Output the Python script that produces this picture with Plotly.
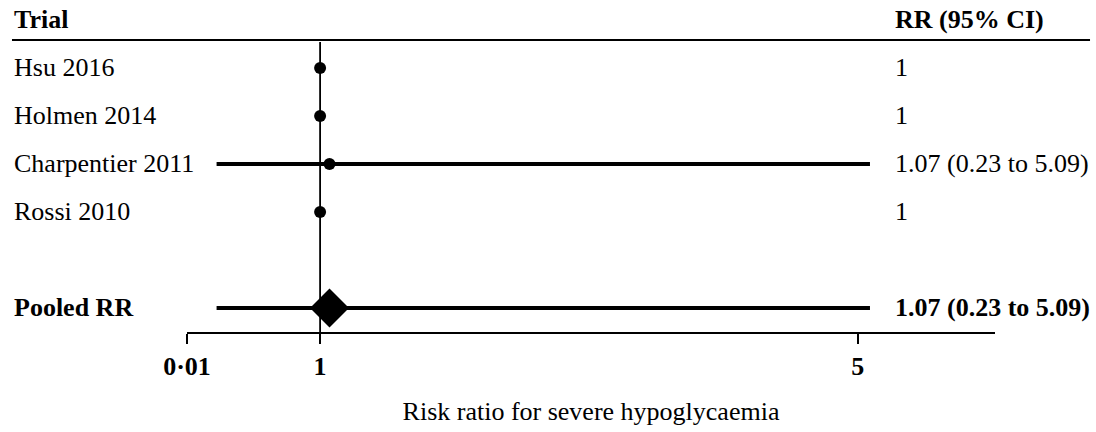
import plotly.graph_objects as go

# ---- data ----
trials = ["Hsu 2016", "Holmen 2014", "Charpentier 2011", "Rossi 2010"]
rr = [1.0, 1.0, 1.07, 1.0]
ci_low = [None, None, 0.23, None]
ci_high = [None, None, 5.09, None]
rr_text = ["1", "1", "1.07 (0.23 to 5.09)", "1"]
pooled_label = "Pooled RR"
pooled_rr = 1.07
pooled_low = 0.23
pooled_high = 5.09
pooled_text = "1.07 (0.23 to 5.09)"
tick_vals = [0.01, 1, 5]
tick_text = ["0·01", "1", "5"]
x_title = "Risk ratio for severe hypoglycaemia"

FONT = "Liberation Serif"
FS = 26

rows = list(range(len(trials)))
pooled_row = len(trials) + 1

fig = go.Figure()

# CI lines
for r, lo, hi in zip(rows, ci_low, ci_high):
    if lo is not None:
        fig.add_trace(go.Scatter(x=[lo, hi], y=[r, r], mode="lines",
                                 line=dict(color="black", width=4),
                                 showlegend=False, hoverinfo="skip"))
fig.add_trace(go.Scatter(x=[pooled_low, pooled_high], y=[pooled_row, pooled_row],
                         mode="lines", line=dict(color="black", width=4),
                         showlegend=False, hoverinfo="skip"))

# point estimates
fig.add_trace(go.Scatter(x=rr, y=rows, mode="markers",
                         marker=dict(color="black", size=12, symbol="circle"),
                         showlegend=False))
fig.add_trace(go.Scatter(x=[pooled_rr], y=[pooled_row], mode="markers",
                         marker=dict(color="black", size=30, symbol="diamond"),
                         showlegend=False))

# reference line at 1
fig.add_shape(type="line", xref="x", yref="paper", x0=1, x1=1, y0=0, y1=1,
              line=dict(color="black", width=1.8), layer="below")

L_X = -0.2166
R_X = 0.8738
HDR_Y = 1.0793

annotations = []
for r, name, t in zip(rows, trials, rr_text):
    annotations.append(dict(x=L_X, xref="paper", y=r, yref="y", text=name,
                            xanchor="left", yanchor="middle", showarrow=False,
                            font=dict(family=FONT, size=FS, color="black")))
    annotations.append(dict(x=R_X, xref="paper", y=r, yref="y", text=t,
                            xanchor="left", yanchor="middle", showarrow=False,
                            font=dict(family=FONT, size=FS, color="black")))
annotations.append(dict(x=L_X, xref="paper", y=pooled_row, yref="y",
                        text="<b>" + pooled_label + "</b>",
                        xanchor="left", yanchor="middle", showarrow=False,
                        font=dict(family=FONT, size=FS, color="black")))
annotations.append(dict(x=R_X, xref="paper", y=pooled_row, yref="y",
                        text="<b>" + pooled_text + "</b>",
                        xanchor="left", yanchor="middle", showarrow=False,
                        font=dict(family=FONT, size=FS, color="black")))
# headers
annotations.append(dict(x=L_X, xref="paper", y=HDR_Y, yref="paper", text="<b>Trial</b>",
                        xanchor="left", yanchor="middle", showarrow=False,
                        font=dict(family=FONT, size=FS, color="black")))
annotations.append(dict(x=R_X, xref="paper", y=HDR_Y, yref="paper", text="<b>RR (95% CI)</b>",
                        xanchor="left", yanchor="middle", showarrow=False,
                        font=dict(family=FONT, size=FS, color="black")))

fig.add_shape(type="line", xref="paper", yref="paper", x0=L_X, x1=1.1176,
              y0=1.0069, y1=1.0069, line=dict(color="black", width=2))

fig.update_layout(
    width=1096, height=432,
    margin=dict(l=187, r=101, t=42, b=100),
    paper_bgcolor="white", plot_bgcolor="white",
    annotations=annotations,
    showlegend=False,
    xaxis=dict(range=[0.01, 6.02], showgrid=False, zeroline=False,
               showline=True, linecolor="black", linewidth=1.5,
               ticks="outside", ticklen=10, tickwidth=1.5, tickcolor="black",
               tickvals=tick_vals, ticktext=["<b>" + t + "</b>" for t in tick_text],
               tickfont=dict(family=FONT, size=FS, color="black"),
               title=dict(text=x_title, font=dict(family=FONT, size=FS, color="black"),
                          standoff=22)),
    yaxis=dict(range=[5.5, -0.54], showgrid=False, zeroline=False, showline=False,
               showticklabels=False, ticks=""),
)

fig.write_html("out.html",
               config={"displayModeBar": False},
               post_script="document.body.style.margin='0';document.body.style.overflow='hidden';")
